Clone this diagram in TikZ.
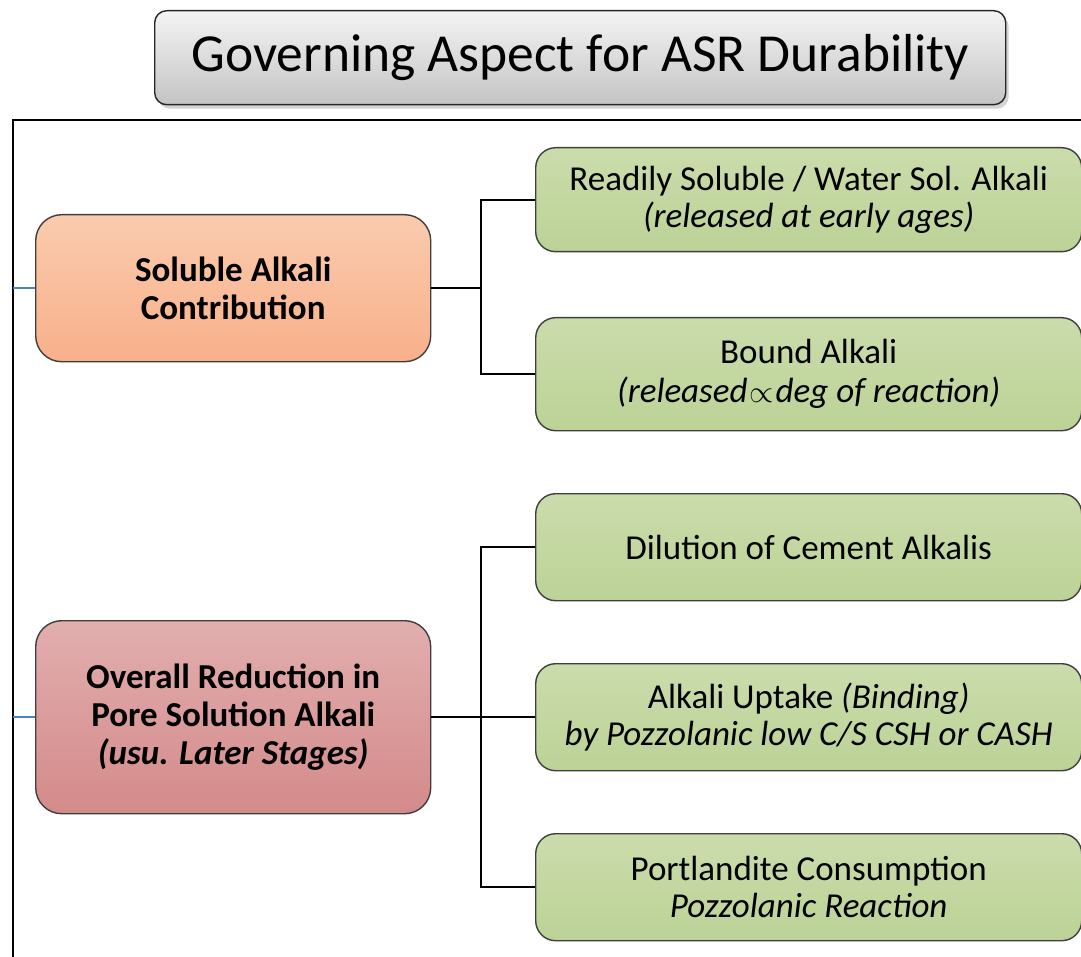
\documentclass[tikz,border=0pt]{standalone}
\usepackage{fontspec}
\setmainfont{Carlito}
\usetikzlibrary{shadows}
\definecolor{framecol}{HTML}{000000}
\definecolor{boxline}{HTML}{3F3F3F}
\definecolor{linkblue}{HTML}{4F81BD}
\definecolor{greentop}{HTML}{CBDCAC}
\definecolor{greenbot}{HTML}{BCD296}
\definecolor{orangetop}{HTML}{FACBAE}
\definecolor{orangebot}{HTML}{F8B08A}
\definecolor{redtop}{HTML}{E2AEAE}
\definecolor{redbot}{HTML}{D48A8A}
\definecolor{graytop}{HTML}{F4F4F4}
\definecolor{graybot}{HTML}{C4C4C4}
\tikzset{
  leafbox/.style={draw=boxline, line width=1.4pt, rounded corners=20pt,
    top color=greentop, bottom color=greenbot, anchor=north west,
    minimum width=546pt, inner sep=0pt, align=center,
    font=\fontsize{35}{37.5}\selectfont},
  mainbox/.style={draw=boxline, line width=1.4pt, rounded corners=26pt,
    anchor=north west, minimum width=395pt, inner sep=0pt, align=center,
    font=\bfseries\fontsize{35}{38}\selectfont},
  titlebox/.style={draw=black!85, line width=1.4pt, rounded corners=12pt,
    top color=graytop, bottom color=graybot, anchor=north west,
    minimum width=851pt, minimum height=94pt, inner sep=0pt,
    font=\fontsize{53.5}{60}\selectfont,
    drop shadow={shadow xshift=3pt, shadow yshift=-4pt, opacity=0.35}},
  link/.style={line width=2.2pt, black},
  bluelink/.style={line width=2pt, linkblue},
  framestyle/.style={line width=2.2pt, framecol}
}
\begin{document}
\begin{tikzpicture}[x=1pt, y=-1pt]
\useasboundingbox (0,0) rectangle (1081,957);

% outer frame (top and left edges)
\coordinate (fTR) at (1081,120);
\coordinate (fTL) at (13,120);
\coordinate (fBL) at (13,957);
\draw[framestyle] (fTR) -- (fTL) -- (fBL);

% title
\node[titlebox] (title) at (154,10) {\raisebox{-5pt}{Governing Aspect for ASR Durability}};

% main category boxes
\node[mainbox, minimum height=147pt, top color=orangetop, bottom color=orangebot]
  (sol) at (35,214) {Soluble Alkali\\Contribution};
\node[mainbox, minimum height=193pt, top color=redtop, bottom color=redbot]
  (red) at (35,620) {Overall Reduction in\\Pore Solution Alkali\\\itshape(usu. Later Stages)};

% detail boxes
\node[leafbox, minimum height=104pt] (l1) at (535,147)
  {Readily Soluble / Water Sol. Alkali\\\itshape(released at early ages)};
\node[leafbox, minimum height=113pt, font=\fontsize{35}{39}\selectfont] (l2) at (535,317)
  {Bound Alkali\\\itshape(released\kern2pt\scalebox{1.25}{$\propto$}\kern2pt deg of reaction)};
\node[leafbox, minimum height=107pt] (l3) at (535,493)
  {Dilution of Cement Alkalis};
\node[leafbox, minimum height=107pt] (l4) at (535,663)
  {Alkali Uptake \textit{(Binding)}\\\itshape by Pozzolanic low C/S CSH or CASH};
\node[leafbox, minimum height=107pt] (l5) at (535,833)
  {Portlandite Consumption\\\itshape Pozzolanic Reaction};

% links from the frame edge
\draw[bluelink] (fTL |- sol.west) -- (sol.west);
\draw[bluelink] (fTL |- red.west) -- (red.west);

% branch connectors
\coordinate (b1) at (481,0);
\draw[link] (sol.east) -- (b1 |- sol.east);
\draw[link] (l1.west) -- (b1 |- l1.west) -- (b1 |- l2.west) -- (l2.west);
\draw[link] (red.east) -- (l4.west);
\draw[link] (l3.west) -- (b1 |- l3.west) -- (b1 |- l5.west) -- (l5.west);
\end{tikzpicture}
\end{document}
